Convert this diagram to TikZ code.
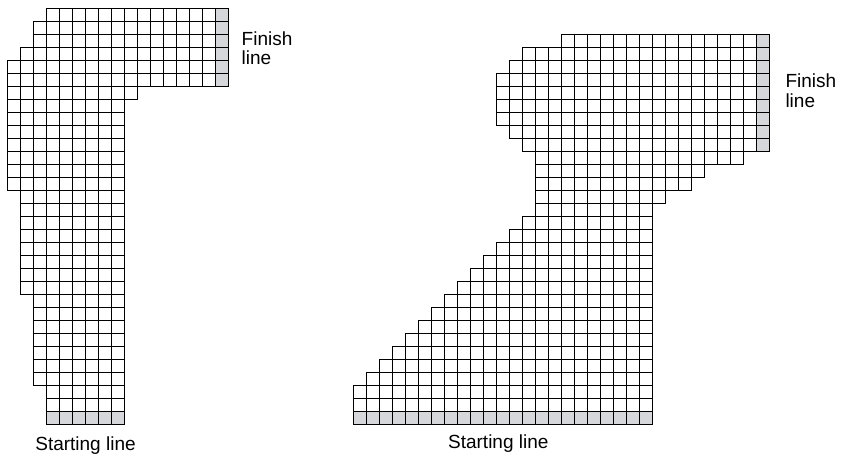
\documentclass[tikz,border=0pt]{standalone}
\usepackage{fontspec}
\setmainfont{Liberation Sans}
\usepackage{tikz}
\definecolor{linegray}{RGB}{214,215,218}

\begin{document}
\begin{tikzpicture}[x=1pt, y=-1pt, font=\fontsize{19}{19.5}\selectfont,
  cell/.style={draw=black, line width=0.9pt},
  lbl/.style={inner sep=0pt, align=left}]
\useasboundingbox (0,0) rectangle (847,457);
% left track: rows  r0/r1/c0/c1
\begin{scope}[shift={(7.5,8.3)}, x=13pt, y=-13pt]
  \fill[linegray] (16,0) rectangle (17,6);
  \fill[linegray] (3,31) rectangle (9,32);
  \foreach \ra/\rb/\ca/\cb in {0/0/3/16, 1/2/2/16, 3/3/1/16, 4/5/0/16, 6/6/0/9,
      7/13/0/8, 14/21/1/8, 22/28/2/8, 29/31/3/8}
    \foreach \r in {\ra,...,\rb}
      \foreach \c in {\ca,...,\cb}
        \draw[cell] (\c,\r) rectangle ++(1,1);
  \coordinate (finA) at (17,3);
  \coordinate (startA) at (6,32);
\end{scope}
% right track
\begin{scope}[shift={(353.3,34)}, x=13pt, y=-13pt]
  \fill[linegray] (31,0) rectangle (32,9);
  \fill[linegray] (0,29) rectangle (23,30);
  \foreach \ra/\rb/\ca/\cb in {0/0/16/31, 1/1/13/31, 2/2/12/31, 3/6/11/31, 7/7/12/31,
      8/8/13/31, 9/9/14/29, 10/10/14/26, 11/11/14/25, 12/12/14/23, 13/13/14/22,
      14/14/13/22, 15/15/12/22, 16/16/11/22, 17/17/10/22, 18/18/9/22, 19/19/8/22,
      20/20/7/22, 21/21/6/22, 22/22/5/22, 23/23/4/22, 24/24/3/22, 25/25/2/22,
      26/26/1/22, 27/29/0/22}
    \foreach \r in {\ra,...,\rb}
      \foreach \c in {\ca,...,\cb}
        \draw[cell] (\c,\r) rectangle ++(1,1);
  \coordinate (finB) at (32,4.5);
  \coordinate (startB) at (11.5,30);
\end{scope}
\node[lbl, anchor=west] (finishA) at ([xshift=13pt, yshift=-1pt]finA) {Finish\\line};
\node[lbl, anchor=west] (finishB) at ([xshift=16pt, yshift=2pt]finB) {Finish\\line};
\node[lbl, anchor=base] (startlblA) at ([yshift=-26pt]startA) {Starting line};
\node[lbl, anchor=base] (startlblB) at ([xshift=-4.5pt, yshift=-24pt]startB) {Starting line};
\end{tikzpicture}
\end{document}
